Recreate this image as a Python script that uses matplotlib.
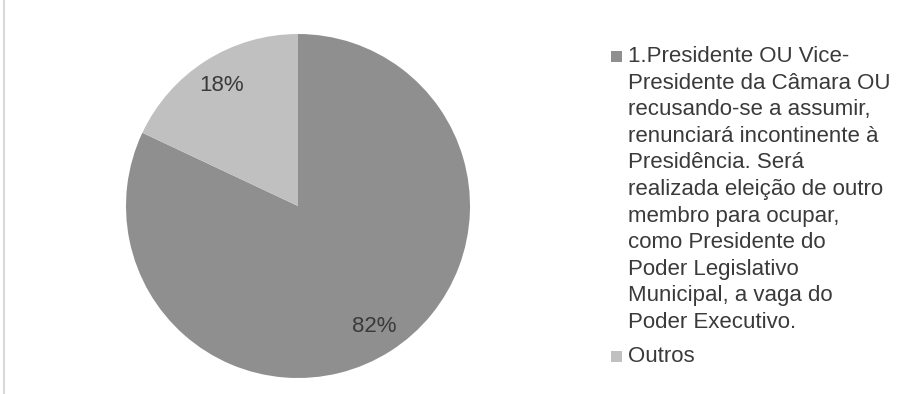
import matplotlib
matplotlib.use('Agg')
from matplotlib import pyplot as plt
from matplotlib.lines import Line2D
from matplotlib.patches import Rectangle

labels = ['1.Presidente OU Vice-\nPresidente da Câmara OU\nrecusando-se a assumir,\n'
          'renunciará incontinente à\nPresidência. Será\nrealizada eleição de outro\n'
          'membro para ocupar,\ncomo Presidente do\nPoder Legislativo\n'
          'Municipal, a vaga do\nPoder Executivo.',
          'Outros']
values = [82, 18]
colors = ['#8f8f8f', '#c0c0c0']

W, H = 908, 394
fig = plt.figure(figsize=(W / 100, H / 100), dpi=100)
plt.rcParams['font.family'] = ['Liberation Sans', 'DejaVu Sans']
txt_color = '#3a3a3a'

# pie centred at (298, 206) px, radius 172 px
cx, cy, r = 298, 206, 172
ax = fig.add_axes([(cx - r) / W, (H - cy - r) / H, 2 * r / W, 2 * r / H])
wedges, _, autotexts = ax.pie(values, colors=colors, startangle=90, counterclock=False,
                              autopct='%1.0f%%', pctdistance=0.83,
                              wedgeprops=dict(linewidth=0),
                              textprops=dict(fontsize=16, color=txt_color))
ax.set_xlim(-1, 1)
ax.set_ylim(-1, 1)
ax.set_aspect('equal')

# left border line
fig.add_artist(Line2D([4 / W, 4 / W], [1 - 393 / H, 1], color='#d9d9d9', lw=1.5))

# legend drawn by hand so the marker sits on the first line
tops = [50, 350]
for w, lab, top in zip(wedges, labels, tops):
    fig.add_artist(Rectangle((611 / W, 1 - (top + 12) / H), 11 / W, 11 / H,
                             facecolor=w.get_facecolor(), edgecolor='none'))
    fig.text(628 / W, 1 - (top - 4) / H, lab, fontsize=16, color=txt_color,
             va='top', ha='left', linespacing=1.35)

fig.savefig('out.png', dpi=100)
